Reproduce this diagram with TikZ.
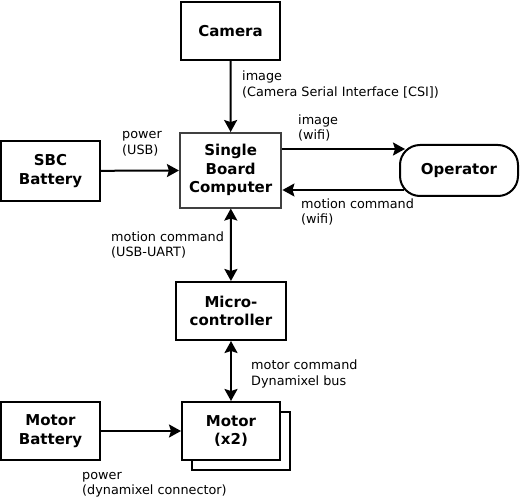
\documentclass[tikz,border=0pt]{standalone}
\usepackage{fontspec}
\setmainfont{DejaVu Sans}
\usetikzlibrary{arrows.meta}

\begin{document}
\begin{tikzpicture}[x=1pt, y=-1pt,
    block/.style={draw, line width=2pt, fill=white, align=center, inner sep=0pt,
        font=\bfseries\fontsize{15}{18.5}\selectfont},
    lbl/.style={anchor=west, align=left, inner sep=0pt, font=\fontsize{12.8}{15.5}\selectfont},
    link/.style={line width=2pt, -{Stealth[length=12pt,width=13pt,inset=2pt]}},
    duplex/.style={line width=2pt, {Stealth[length=12pt,width=13pt,inset=2pt]}-{Stealth[length=12pt,width=13pt,inset=2pt]}}]
    \useasboundingbox (0,0) rectangle (520,500);

    \node[block, minimum width=99pt, minimum height=58pt] (camera) at (230.5,31) {Camera};
    \node[block, draw=black!75, minimum width=101.5pt, minimum height=74.5pt] (sbc) at (230.7,170.3) {Single\\Board\\Computer};
    \node[block, rounded corners=20pt, minimum width=118pt, minimum height=51pt] (operator) at (459,170.5) {Operator};
    \node[block, minimum width=99pt, minimum height=59.5pt] (sbcbattery) at (50.5,171) {SBC\\Battery};
    \node[block, minimum width=110pt, minimum height=58pt] (micro) at (231,311) {Micro-\\controller};
    \node[block, minimum width=98pt, minimum height=58pt] (motorback) at (241,441) {};
    \node[block, minimum width=98pt, minimum height=58pt] (motor) at (231,431) {Motor\\(x2)};
    \node[block, minimum width=99pt, minimum height=58pt] (motorbattery) at (50.5,431) {Motor\\Battery};

    \draw[link] (camera) -- (sbc);
    \draw[link] (sbcbattery) -- (sbc);
    \draw[link] ([yshift=21.3pt]sbc.east) -- ([xshift=6pt,yshift=21.5pt]operator.west);
    \draw[link] ([xshift=5pt,yshift=-19.5pt]operator.west) -- ([yshift=-19.7pt]sbc.east);
    \draw[duplex] (sbc) -- (micro);
    \draw[duplex] (micro) -- (motor);
    \draw[link] (motorbattery) -- (motor);

    \node[lbl] (csi) at (242,84.5) {image\\(Camera Serial Interface [CSI])};
    \node[lbl] (usb) at (122,144) {power\\(USB)};
    \node[lbl] (wifiout) at (298,128) {image\\(wifi)};
    \node[lbl] (wifiin) at (301,212) {motion command\\(wifi)};
    \node[lbl] (uart) at (111,245) {motion command\\(USB-UART)};
    \node[lbl] (bus) at (251,374) {motor command\\Dynamixel bus};
    \node[lbl] (dxl) at (82,484.5) {power\\(dynamixel connector)};
\end{tikzpicture}
\end{document}
